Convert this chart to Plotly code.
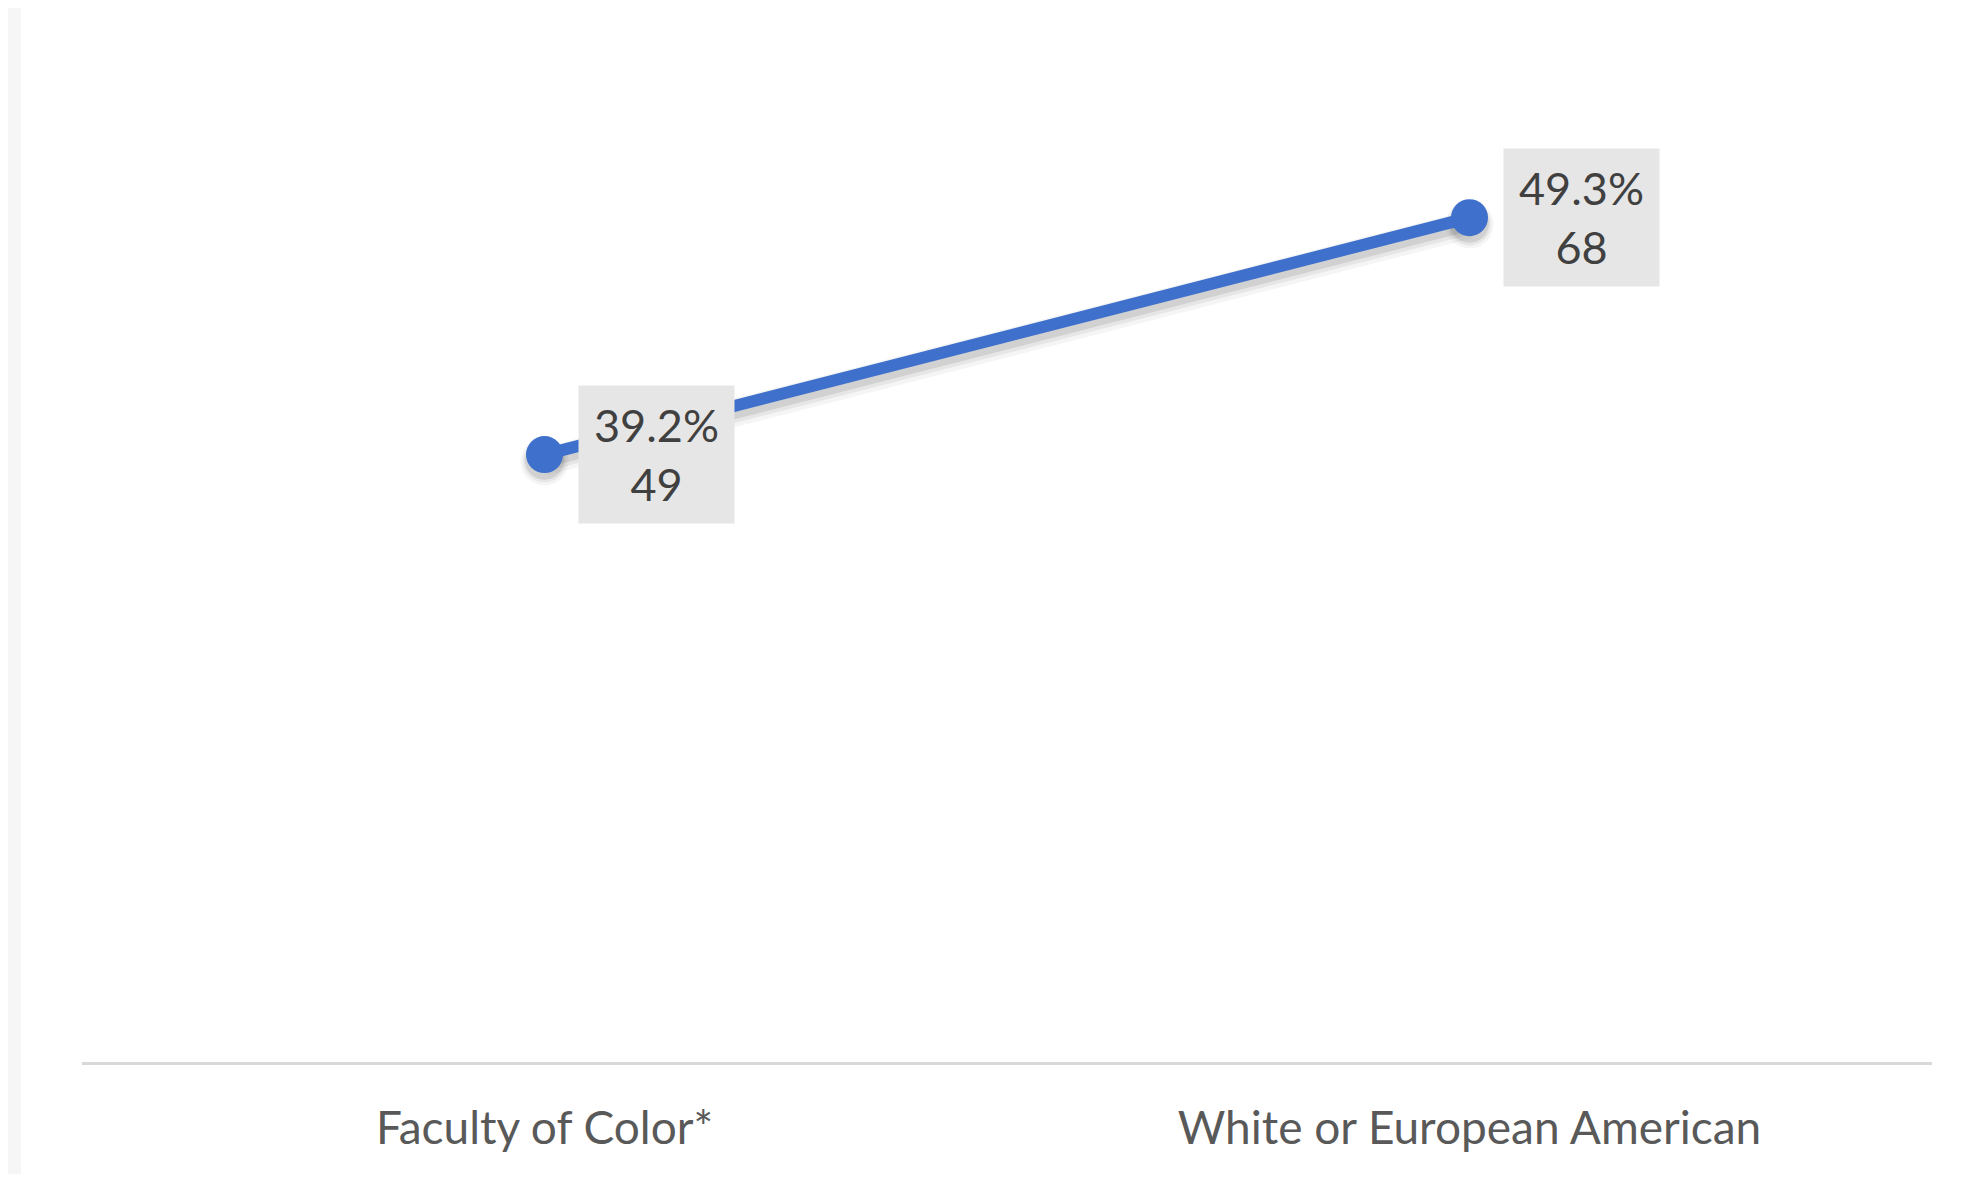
import plotly.graph_objects as go

categories = ["Faculty of Color*", "White or European American"]
counts = [49, 68]
percents = [39.2, 49.3]

# page has an 8px body margin, so the figure is sized to fit inside the window
W, H = 1951, 1166
L, R, T, B = 74, 27, 60, 112
pw, ph = W - L - R, H - T - B

line_color = "#3E70CC"
font_family = "Lato, 'Open Sans', sans-serif"

fig = go.Figure()

# soft blurred shadow under the line (several translucent layers)
for width, msize, alpha, dy in [(28, 48, 0.04, 0.55), (21, 43, 0.06, 0.5), (15, 39, 0.09, 0.45)]:
    fig.add_trace(go.Scatter(
        x=categories, y=[c - dy for c in counts], mode="lines+markers",
        line=dict(color=f"rgba(0,0,0,{alpha})", width=width),
        marker=dict(size=msize, color=f"rgba(0,0,0,{alpha})"),
        hoverinfo="skip", showlegend=False,
    ))
fig.add_trace(go.Scatter(
    x=categories, y=counts, mode="lines+markers",
    line=dict(color=line_color, width=12),
    marker=dict(size=37, color=line_color),
    hoverinfo="skip", showlegend=False,
))

for cat, c, p in zip(categories, counts, percents):
    fig.add_annotation(
        x=cat, y=c, xref="x", yref="y",
        text=f"{p:.1f}%<br>{c}", showarrow=False,
        xanchor="left", yanchor="middle", xshift=33,
        width=155, height=137, borderpad=0,
        bgcolor="#e6e6e6", align="center", valign="middle",
        font=dict(family=font_family, size=45, color="#404040"),
    )

# white chart area over grey page background
fig.add_shape(
    type="rect", xref="paper", yref="paper", layer="below",
    x0=(13 - L) / pw, x1=1.2, y0=-0.3, y1=1.2,
    fillcolor="white", line=dict(width=0),
)

fig.update_layout(
    width=W, height=H,
    margin=dict(l=L, r=R, t=T, b=B),
    paper_bgcolor="#f6f6f6", plot_bgcolor="rgba(0,0,0,0)",
    font=dict(family=font_family),
    xaxis=dict(
        type="category", range=[-0.5, 1.5],
        showline=True, linecolor="#d9d9d9", linewidth=3,
        showgrid=False, zeroline=False, ticks="",
        ticklabelstandoff=24,
        tickfont=dict(family=font_family, size=46, color="#595959"),
    ),
    yaxis=dict(
        range=[0.3, 80], visible=False, showgrid=False, zeroline=False,
    ),
)

fig.write_html("out.html")
